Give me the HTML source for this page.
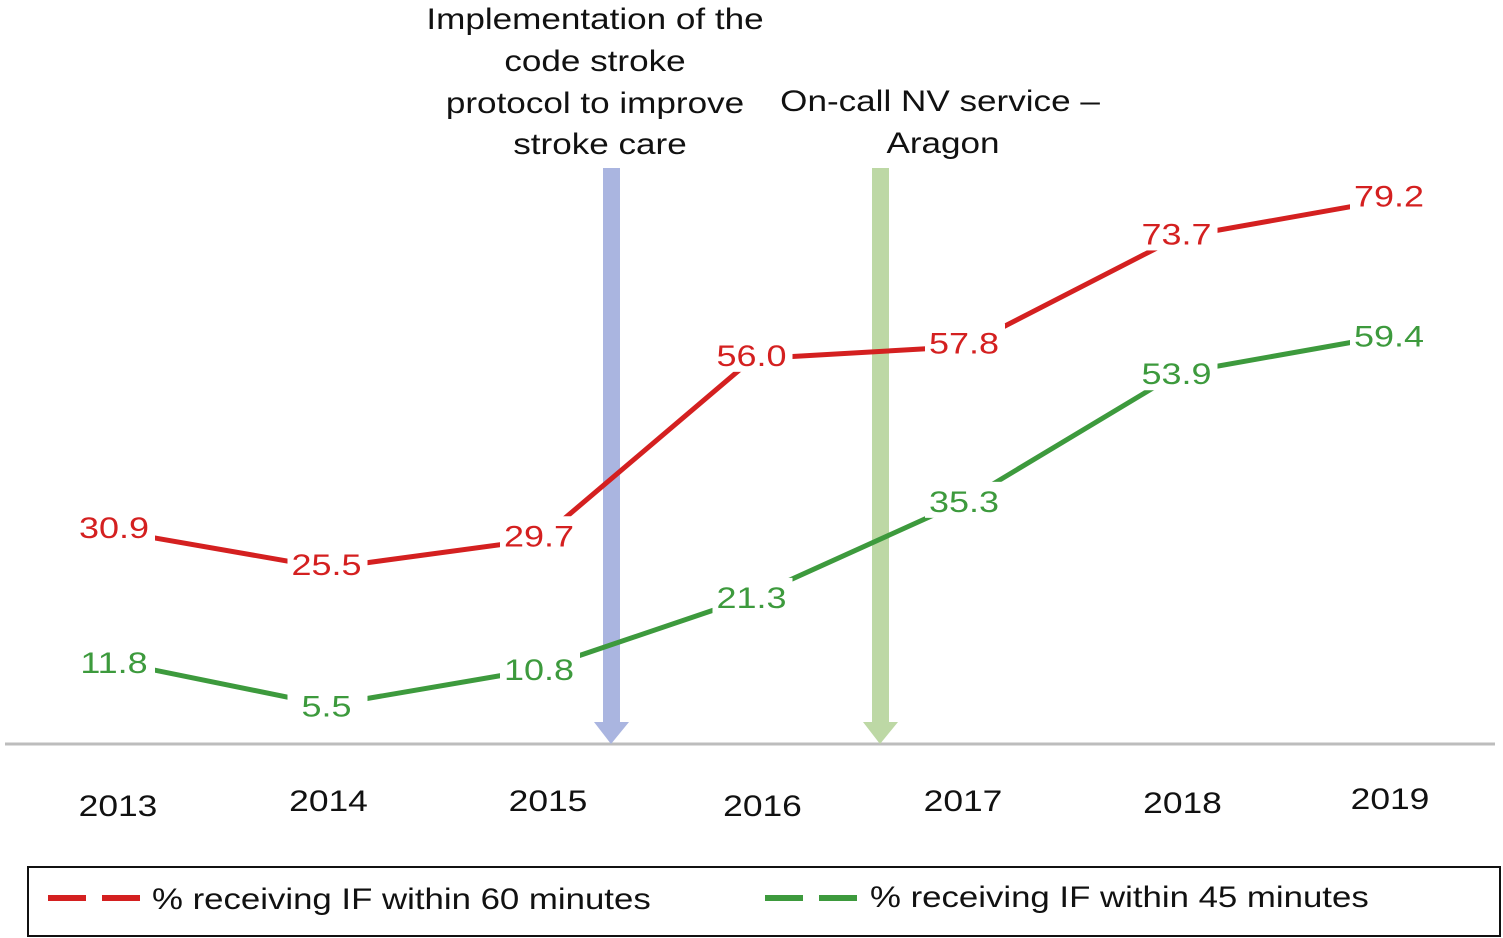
<!DOCTYPE html>
<html><head><meta charset="utf-8"><style>
html,body{margin:0;padding:0;background:#fff;}
svg{display:block;font-family:"Liberation Sans",Arial,sans-serif;}
</style></head><body>
<svg id="chart" width="1503" height="938" viewBox="0 0 1503 938">
  <line x1="5" y1="744" x2="1495" y2="744" stroke="#bdbdbd" stroke-width="3"/>
  <g font-size="30" fill="#111" text-anchor="middle">
    <text transform="translate(595,29) scale(1.17,1)">Implementation of the</text>
    <text transform="translate(595,71) scale(1.17,1)">code stroke</text>
    <text transform="translate(595,113) scale(1.17,1)">protocol to improve</text>
    <text transform="translate(600,154) scale(1.17,1)">stroke care</text>
  </g>
  <g font-size="30" fill="#111" text-anchor="middle">
    <text transform="translate(940,111) scale(1.17,1)">On-call NV service –</text>
    <text transform="translate(943,153) scale(1.17,1)">Aragon</text>
  </g>
  <g fill="#aab5e0">
    <rect x="603" y="168" width="17" height="556"/>
    <polygon points="594,722 629,722 611,744"/>
  </g>
  <g fill="#bdd8a5">
    <rect x="872" y="168" width="17" height="556"/>
    <polygon points="863,722 898,722 880,744"/>
  </g>
  <g id="series"></g>
  <g id="xlabels" font-size="30" fill="#111" text-anchor="middle"></g>
  <g>
    <rect x="28" y="867" width="1472" height="69" fill="none" stroke="#111" stroke-width="2"/>
    <g>
      <line x1="48" y1="898" x2="140" y2="898" stroke="#d42020" stroke-width="6" stroke-dasharray="38,16"/>
      <text transform="translate(152,909) scale(1.16,1)" font-size="30" fill="#111">% receiving IF within 60 minutes</text>
    </g>
    <g>
      <line x1="765" y1="898" x2="857" y2="898" stroke="#3d9a3d" stroke-width="6" stroke-dasharray="38,16"/>
      <text transform="translate(870,907) scale(1.16,1)" font-size="30" fill="#111">% receiving IF within 45 minutes</text>
    </g>
  </g>
</svg>
<script>
const years = ["2013","2014","2015","2016","2017","2018","2019"];
const within60 = [30.9, 25.5, 29.7, 56.0, 57.8, 73.7, 79.2];
const within45 = [11.8, 5.5, 10.8, 21.3, 35.3, 53.9, 59.4];
const yearLabelOffsets = [5, 0, 0, 5, 0, 2, -2];
const yearLabelShiftX = [0, -2, 5, 7, -5, 2, -3];

const NS = "http://www.w3.org/2000/svg";
function xPos(i){ return 115 + i * 212.5; }
function yPos(v){ return 743 - v * 6.86; }

const series = document.getElementById("series");
function drawSeries(vals, color, name, dy){
  const g = document.createElementNS(NS, "g");
  
  
  const pl = document.createElementNS(NS, "polyline");
  pl.setAttribute("points", vals.map((v,i)=>xPos(i)+","+yPos(v)).join(" "));
  pl.setAttribute("fill","none");
  pl.setAttribute("stroke",color);
  pl.setAttribute("stroke-width","5");
  
  
  g.appendChild(pl);
  vals.forEach((v,i)=>{
    const r = document.createElementNS(NS,"rect");
    r.setAttribute("x", xPos(i)-40); r.setAttribute("y", yPos(v)-19+dy);
    r.setAttribute("width", 80); r.setAttribute("height", 36);
    r.setAttribute("fill","#fff");
    
    
    g.appendChild(r);
    const t = document.createElementNS(NS,"text");
    t.setAttribute("transform", "translate(" + (xPos(i)-1) + "," + (yPos(v)+11+dy) + ") scale(1.2,1)");
    t.setAttribute("text-anchor","middle");
    t.setAttribute("font-size","30");
    t.setAttribute("fill",color);
    t.textContent = v.toFixed(1);
    
    
    g.appendChild(t);
  });
  series.appendChild(g);
}
drawSeries(within60, "#d42020", "series-60-minutes", -4);
drawSeries(within45, "#3d9a3d", "series-45-minutes", 0);

const xl = document.getElementById("xlabels");
years.forEach((y,i)=>{
  const t = document.createElementNS(NS,"text");
  t.setAttribute("transform", "translate(" + (xPos(i) + 3 + yearLabelShiftX[i]) + "," + (811 + yearLabelOffsets[i]) + ") scale(1.18,1)");
  t.textContent = y;
  
  
  xl.appendChild(t);
});
</script>
</body></html>
